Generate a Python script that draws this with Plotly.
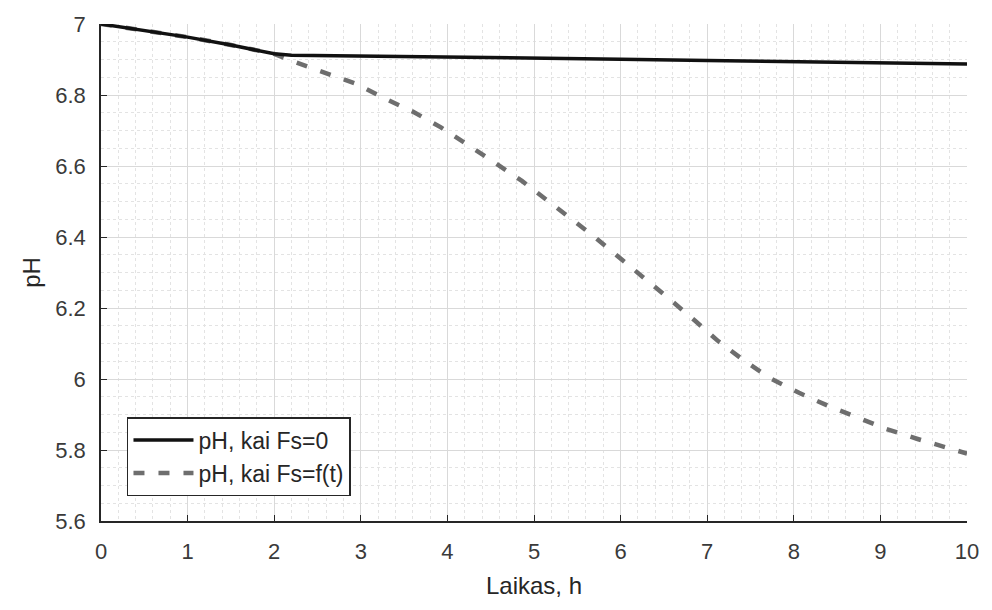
import plotly.graph_objects as go

# Data
t_fs0 = [0, 0.5, 1, 1.5, 2, 2.2, 3, 4, 5, 6, 7, 8, 9, 10]
ph_fs0 = [7.0, 6.982, 6.963, 6.941, 6.916, 6.912, 6.910, 6.907, 6.904, 6.901, 6.897, 6.894, 6.890, 6.887]

t_fst = [0, 0.5, 1, 1.5, 2, 2.26, 2.95, 3.26, 3.61, 3.93, 4.24, 4.55, 4.86, 5.14, 5.43,
         5.72, 6.01, 6.28, 6.57, 6.86, 7.13, 7.43, 7.73, 8.06, 8.40, 8.74, 9.07, 9.43, 9.78, 10]
ph_fst = [7.0, 6.982, 6.963, 6.941, 6.916, 6.891, 6.831, 6.792, 6.752, 6.708, 6.660, 6.609, 6.558,
          6.507, 6.451, 6.396, 6.338, 6.285, 6.224, 6.164, 6.106, 6.051, 6.002, 5.961, 5.924,
          5.891, 5.859, 5.831, 5.805, 5.790]

x_ticks = [0, 1, 2, 3, 4, 5, 6, 7, 8, 9, 10]
y_ticks = [5.6, 5.8, 6.0, 6.2, 6.4, 6.6, 6.8, 7.0]
y_tick_labels = ["5.6", "5.8", "6", "6.2", "6.4", "6.6", "6.8", "7"]

FONT = "Arial, Liberation Sans, Helvetica, sans-serif"

fig = go.Figure()
fig.add_trace(go.Scatter(x=t_fst, y=ph_fst, mode="lines", name="pH, kai Fs=f(t)",
                         line=dict(color="#6e6e6e", width=4.5, dash="11px,14px")))
fig.add_trace(go.Scatter(x=t_fs0, y=ph_fs0, mode="lines", name="pH, kai Fs=0",
                         line=dict(color="#111111", width=3.5)))

fig.update_layout(
    width=992, height=610,
    margin=dict(l=101, r=25, t=17, b=89),
    paper_bgcolor="white", plot_bgcolor="white",
    font=dict(family=FONT, color="#262626"),
    showlegend=True,
    legend=dict(x=0.03, y=0.05, xanchor="left", yanchor="bottom",
                bgcolor="white", bordercolor="#262626", borderwidth=1.5,
                font=dict(size=23, color="#262626"), traceorder="reversed",
                tracegroupgap=0, itemwidth=60),
    xaxis=dict(range=[0, 10], tickvals=x_ticks, ticks="inside", ticklen=6,
               tickcolor="#262626", showline=True, linecolor="#262626", linewidth=1.5,
               mirror=False, showgrid=True, gridcolor="#d9d9d9", gridwidth=1,
               zeroline=False, tickfont=dict(size=22, color="#3a3a3a"), ticklabelstandoff=10,
               title=dict(text="Laikas, h", font=dict(size=24, color="#262626"), standoff=14),
               minor=dict(dtick=0.2, showgrid=True, gridcolor="#e3e3e3", griddash="dot", gridwidth=1)),
    yaxis=dict(range=[5.6, 7.0], tickvals=y_ticks, ticktext=y_tick_labels, ticks="inside",
               ticklen=6, tickcolor="#262626", showline=True, linecolor="#262626", linewidth=1.5,
               mirror=False, showgrid=True, gridcolor="#d9d9d9", gridwidth=1,
               zeroline=False, tickfont=dict(size=22, color="#3a3a3a"), ticklabelstandoff=9,
               title=dict(text="pH", font=dict(size=24, color="#262626"), standoff=8),
               minor=dict(dtick=0.05, showgrid=True, gridcolor="#e3e3e3", griddash="dot", gridwidth=1)),
)

fig.write_html("out.html")
